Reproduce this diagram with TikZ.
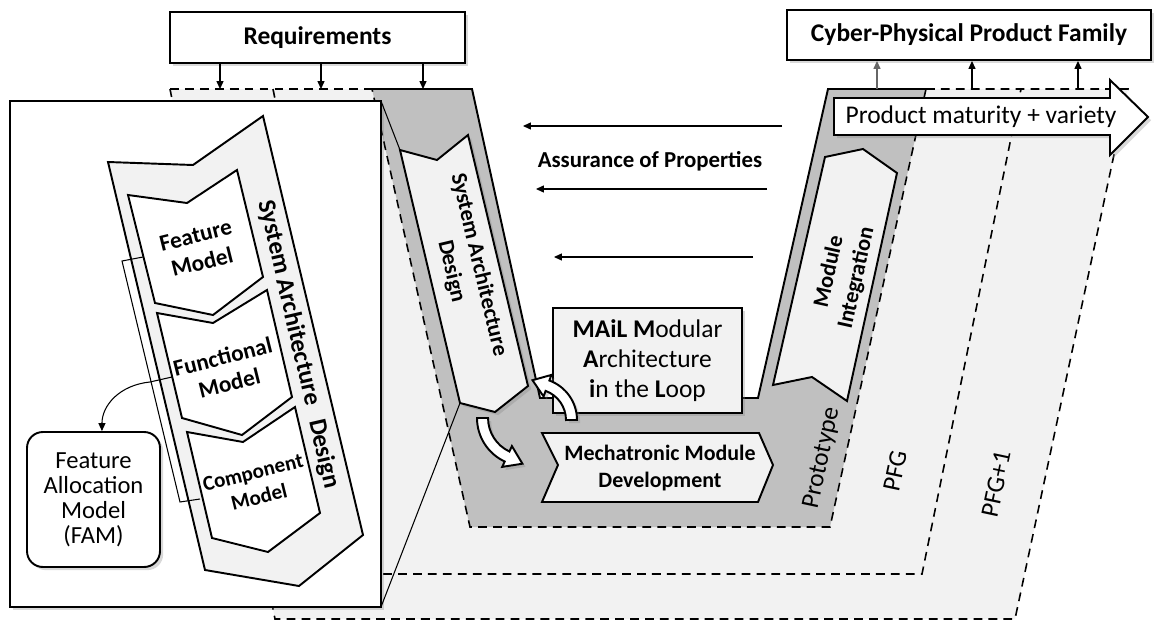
\documentclass[tikz,border=0pt]{standalone}
\usepackage{fontspec}
\setmainfont{Carlito}
\usetikzlibrary{arrows.meta,shadows}
\definecolor{pfggray}{HTML}{F2F2F2}
\definecolor{protogray}{HTML}{C0C0C0}

\begin{document}
\begin{tikzpicture}[x=0.02cm,y=-0.02cm,
    outline/.style={draw=black,line width=1.1pt,line join=miter},
    dashedge/.style={draw=black,line width=0.9pt,dash pattern=on 5pt off 3.5pt},
    thinline/.style={draw=black,line width=0.6pt},
    shadebox/.style={drop shadow={shadow xshift=1.8pt,shadow yshift=-1.8pt,opacity=0.3}},
    thinarrow/.style={line width=0.6pt,-{Triangle[length=4.5pt,width=4pt]}},
    topbox/.style={outline,fill=white,shadebox,minimum height=1cm,inner sep=0pt,
      font=\fontsize{14.5}{17}\selectfont\bfseries},
    txt/.style={inner sep=0pt,align=center},
    layerlabel/.style={txt,font=\fontsize{14.5}{17}\selectfont},
    boldlabel/.style={txt,font=\fontsize{12.8}{16}\selectfont\bfseries},
    modellabel/.style={txt,rotate=14,font=\fontsize{13.2}{15.5}\selectfont\bfseries}]

  \useasboundingbox (0,0) rectangle (1154,622);

  % product family generations
  \fill[pfggray] (170,89) -- (1128,89) -- (1015,619) -- (275,619) -- cycle;
  \fill[white] (472,89) -- (540,398) -- (758,398) -- (828,89) -- cycle;
  \draw[dashedge] (170,89) -- (372,89);
  \draw[dashedge] (926,89) -- (1128,89) -- (1015,619) -- (275,619) -- (170,89);
  \draw[dashedge] (273,89) -- (370,574) -- (922,574) -- (1021,89);

  % prototype
  \fill[protogray] (372,89) -- (472,89) -- (540,398) -- (758,398) -- (828,89)
    -- (926,89) -- (830,527) -- (470,527) -- cycle;
  \draw[outline] (372,89) -- (472,89) -- (540,398) -- (758,398) -- (828,89) -- (926,89);
  \draw[dashedge] (926,89) -- (830,527) -- (470,527) -- (372,89);

  \node[layerlabel,rotate=78] (proto) at (822,458) {Prototype};
  \node[layerlabel,rotate=78] (pfg) at (895,471) {PFG};
  \node[layerlabel,rotate=78] (pfgnext) at (996,484) {PFG+1};

  % V steps
  \draw[outline,fill=pfggray,shadebox] (400,150) -- (437,160) -- (468,135) -- (528,386)
    -- (495,412) -- (460,403) -- cycle;
  \node[boldlabel,rotate=-76.7] (sad) at (465,268) {System Architecture\\Design};

  \draw[outline,fill=pfggray] (825,157) -- (863,149) -- (897,173) -- (847,401)
    -- (812,377) -- (773,385) -- cycle;
  \node[boldlabel,rotate=77.5] (integ) at (843,275) {Module\\Integration};

  \draw[outline,fill=pfggray] (542,433) -- (759,433) -- (773,465) -- (758,502)
    -- (542,502) -- (558,465) -- cycle;
  \node[txt,font=\fontsize{12.5}{15.8}\selectfont\bfseries] (mech) at (660,468)
    {Mechatronic Module\\Development};

  \node[outline,fill=pfggray,shadebox,txt,minimum width=3.78cm,minimum height=2.1cm,
    font=\fontsize{14.5}{17}\selectfont] (mail) at (647.5,360.5)
    {\textbf{MAiL M}odular\\\textbf{A}rchitecture\\\textbf{i}n the \textbf{L}oop};

  % loop arrows
  \draw[outline,fill=white,shadebox] (577,420) arc[start angle=0,end angle=-70,radius=42]
    -- (551.4,374.9) -- (532.5,380.2) -- (543.6,396.5) -- (545.6,390.9)
    arc[start angle=-70,end angle=0,radius=31] -- cycle;
  \draw[outline,fill=white,shadebox] (477,418) arc[start angle=180,end angle=115,radius=48]
    -- (502.2,466.9) -- (522.4,463.7) -- (511.9,446.1) -- (509.4,451.5)
    arc[start angle=115,end angle=180,radius=37] -- cycle;

  % assurance of properties
  \coordinate (as1) at (782,126); \coordinate (at1) at (523,126);
  \coordinate (as2) at (767,189); \coordinate (at2) at (536,189);
  \coordinate (as3) at (753,257); \coordinate (at3) at (554,257);
  \foreach \i in {1,2,3}
    \draw[thinarrow] (as\i) -- (at\i);
  \node[txt,font=\fontsize{13}{15}\selectfont\bfseries] (assur) at (650,161) {Assurance of Properties};

  % requirements and product family
  \node[topbox,minimum width=5.9cm,minimum height=1.02cm] (req) at (317.5,37.5) {Requirements};
  \foreach \x [count=\i] in {220,321,423} {
    \coordinate (rq\i) at (\x,89);
    \draw[thinarrow] (rq\i |- req.south) -- (rq\i);
  }
  \node[topbox,minimum width=7.28cm] (cpf) at (969,35) {Cyber-Physical Product Family};
  \coordinate (cp1) at (877,89);
  \coordinate (cp2) at (972,89);
  \coordinate (cp3) at (1078,89);
  \draw[thinarrow,black!60] (cp1) -- (cp1 |- cpf.south);
  \draw[thinarrow] (cp2) -- (cp2 |- cpf.south);
  \draw[thinarrow] (cp3) -- (cp3 |- cpf.south);

  \draw[outline,fill=white,shadebox] (834,98) -- (1110,98) -- (1110,80) -- (1148,117)
    -- (1110,155) -- (1110,135) -- (834,135) -- cycle;
  \node[txt,font=\fontsize{14.5}{17}\selectfont] (matur) at (981,117) {Product maturity + variety};

  % zoomed system architecture design
  \draw[outline,fill=white,shadebox] (10,101) rectangle (381,607);
  \draw[thinline] (381,101) -- (400,150);
  \draw[thinline] (381,607) -- (460,403);

  \draw[outline,fill=pfggray] (108,162) -- (193,165) -- (263,116) -- (363,535)
    -- (299,586) -- (205,570) -- cycle;
  \node[txt,rotate=-77,font=\fontsize{14.3}{17}\selectfont\bfseries] (sadbig) at (298.5,344.5)
    {System Architecture\hspace{0.6em}Design};

  \draw[outline,fill=white] (128,195) -- (187,203) -- (237,170) -- (263,277)
    -- (213,315) -- (155,303) -- cycle;
  \node[modellabel] (feat) at (199,249) {Feature\\Model};
  \draw[outline,fill=white] (157,313) -- (213,323) -- (267,290) -- (292,397)
    -- (242,435) -- (182,418) -- cycle;
  \node[modellabel] (func) at (226,370) {Functional\\Model};
  \draw[outline,fill=white] (187,432) -- (243,442) -- (295,407) -- (320,513)
    -- (268,552) -- (212,538) -- cycle;
  \node[modellabel,font=\fontsize{12}{14.5}\selectfont\bfseries] (comp) at (256,485) {Component\\Model};

  \draw[thinline] (143,257) -- (122,261) -- (180,502) -- (200,499);
  \draw[thinline] (172,377) -- (150,382);

  \node[outline,fill=white,shadebox,txt,rounded corners=9pt,minimum width=2.66cm,
    minimum height=2.7cm,font=\fontsize{14}{14.3}\selectfont] (fam) at (93.5,499.5)
    {Feature\\Allocation\\Model\\(FAM)};
  \draw[thinarrow] (150,382) .. controls (120,385) and (102,405) .. ([xshift=4.8pt]fam.north);
\end{tikzpicture}
\end{document}
